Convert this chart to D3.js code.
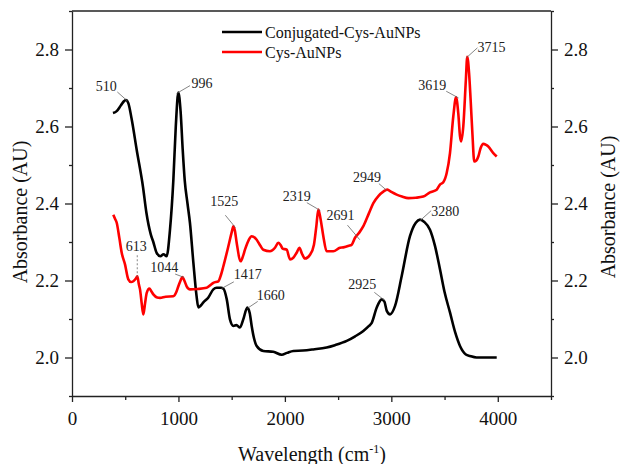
<!DOCTYPE html>
<html>
<head>
<meta charset="utf-8">
<script src="https://cdn.jsdelivr.net/npm/d3@7"></script>
<style>
  body { margin: 0; background: #fff; }
  .axis path, .axis line { stroke: #222; stroke-width: 1.3; }
  .axis text { font-size: 19px; fill: #111; }
  .ann { font-size: 14px; fill: #222; }
  .leader { stroke: #666; stroke-width: 0.8; fill: none; }
</style>
</head>
<body>
<svg id="chart" width="620" height="464" font-family="Liberation Serif"></svg>
<script>
const FONT = "Liberation Serif"

// Conjugated-Cys-AuNPs (black)
const conjX = [385,420,460,490,507,530,560,608,667,699,740,764,795,830,860,889,920,952,975,999,1020,1040,1059,1085,1108,1140,1170,1187,1210,1234,1281,1328,1359,1400,1422,1454,1484,1516,1545,1578,1609,1647,1670,1688,1710,1735,1797,1891,1970,2020,2079,2170,2267,2392,2470,2581,2660,2737,2790,2816,2863,2910,2935,2957,2988,3035,3097,3175,3230,3269,3310,3363,3410,3457,3500,3551,3600,3645,3700,3739,3800,3990]
const conjY = [2.635,2.640,2.655,2.666,2.669,2.660,2.620,2.539,2.443,2.376,2.320,2.300,2.272,2.263,2.268,2.263,2.330,2.460,2.600,2.688,2.640,2.540,2.460,2.400,2.350,2.247,2.160,2.130,2.135,2.143,2.156,2.177,2.181,2.181,2.179,2.151,2.099,2.082,2.084,2.078,2.099,2.130,2.115,2.082,2.050,2.030,2.017,2.015,2.007,2.012,2.017,2.018,2.021,2.026,2.032,2.043,2.055,2.069,2.082,2.090,2.130,2.151,2.145,2.121,2.112,2.134,2.211,2.315,2.350,2.358,2.352,2.332,2.290,2.229,2.170,2.117,2.065,2.030,2.008,2.004,2.000,2.000]

// Cys-AuNPs (red)
const cysX = [388,405,420,445,467,498,529,555,576,600,614,628,639,655,670,686,702,727,745,764,800,827,880,952,980,999,1020,1037,1055,1077,1109,1180,1265,1300,1328,1375,1400,1422,1469,1500,1516,1530,1547,1585,1605,1625,1660,1688,1735,1770,1797,1860,1907,1938,1960,1979,2017,2048,2079,2110,2136,2160,2189,2236,2273,2295,2314,2335,2361,2392,2455,2518,2549,2600,2628,2659,2700,2737,2790,2831,2880,2925,2962,3000,3050,3100,3160,3230,3300,3363,3426,3457,3488,3520,3551,3582,3608,3629,3645,3655,3676,3700,3713,3730,3745,3762,3779,3800,3817,3840,3864,3890,3911,3958,3990]
const cysY = [2.371,2.360,2.350,2.310,2.272,2.242,2.203,2.196,2.198,2.205,2.211,2.190,2.177,2.140,2.112,2.140,2.168,2.179,2.172,2.164,2.156,2.155,2.158,2.159,2.170,2.185,2.200,2.209,2.200,2.185,2.177,2.178,2.181,2.188,2.194,2.198,2.215,2.237,2.289,2.325,2.341,2.330,2.298,2.250,2.262,2.280,2.305,2.315,2.306,2.290,2.280,2.276,2.285,2.298,2.292,2.283,2.280,2.255,2.259,2.272,2.285,2.270,2.257,2.267,2.293,2.340,2.384,2.360,2.315,2.276,2.276,2.285,2.286,2.290,2.293,2.311,2.325,2.341,2.375,2.401,2.420,2.431,2.436,2.430,2.423,2.418,2.414,2.415,2.418,2.429,2.436,2.449,2.455,2.479,2.531,2.626,2.676,2.634,2.575,2.561,2.600,2.720,2.781,2.740,2.669,2.580,2.509,2.512,2.522,2.545,2.555,2.552,2.548,2.531,2.522]

const seriesNames = ["Conjugated-Cys-AuNPs", "Cys-AuNPs"]
const seriesColors = ["#000000", "#ff0000"]

const xTicks = [0,1000,2000,3000,4000]
const xMinor = [500,1500,2500,3500,4500]
const yTicks = [2.0,2.2,2.4,2.6,2.8]
const yMinor = [1.9,2.1,2.3,2.5,2.7,2.9]

// peak labels: wavenumber, absorbance on the curve
const peakLabels = ["510","996","1525","2319","2691","2949","3619","3715","613","1044","1417","1660","2925","3280"]
const peakX = [510,996,1525,2319,2691,2949,3619,3715,613,1044,1417,1660,2925,3280]
const peakY = [2.669,2.688,2.341,2.384,2.31,2.436,2.676,2.781,2.211,2.209,2.181,2.13,2.151,2.358]
// text offset (dx, dy) and leader start (lx, ly) from the peak, in px
const labelOffsets = [[-20,-9,-9,-8],[24,-5,12,-7],[-10,-20,-9,-11],[-22,-9,-12,-7],[-18,-18,-11,-13],[-19,-8,-7,-6],
                      [-25,-7,-11,-6],[24,-5,10,-9],[-1,-25,0,-21],[-19,-5,-8,-3],[25,-9,11,-6],[22,-7,9,-6],[-21,-10,-9,-7],[24,-4,10,-9]]

let svg = d3.select("#chart")
let xScale = d3.scaleLinear().domain([0,4500]).range([72,551])
let yScale = d3.scaleLinear().domain([1.9,2.9]).range([396,11])

// frame top
svg.append("line").attr("x1",72).attr("x2",551).attr("y1",11).attr("y2",11)
    .attr("stroke","#222").attr("stroke-width",1.3)

function addAxis(axis, tx, ty, minor){
    let g = svg.append("g").attr("class","axis")
        .attr("transform",`translate(${tx},${ty})`)
        .call(axis)
        .attr("font-family",FONT)
    if (minor) g.select(".domain").remove()
    return g
}

// X axis
addAxis(d3.axisBottom(xScale).tickValues(xTicks).tickFormat(d3.format("d")).tickSize(6).tickPadding(10).tickSizeOuter(0),0,396)
addAxis(d3.axisBottom(xScale).tickValues(xMinor).tickFormat("").tickSize(4).tickSizeOuter(0),0,396,true)
// Y axis left
addAxis(d3.axisLeft(yScale).tickValues(yTicks).tickFormat(d3.format(".1f")).tickSize(7).tickPadding(6).tickSizeOuter(0),72,0)
addAxis(d3.axisLeft(yScale).tickValues(yMinor).tickFormat("").tickSize(3).tickSizeOuter(0),72,0,true)
// Y axis right
addAxis(d3.axisRight(yScale).tickValues(yTicks).tickFormat(d3.format(".1f")).tickSize(7).tickPadding(6).tickSizeOuter(0),551,0)
addAxis(d3.axisRight(yScale).tickValues(yMinor).tickFormat("").tickSize(3).tickSizeOuter(0),551,0,true)

// Labels
let xl = svg.append("text").attr("x",312).attr("y",461).attr("text-anchor","middle")
    .attr("font-family",FONT).attr("font-size",20).attr("fill","#111")
xl.append("tspan").text("Wavelength (cm")
xl.append("tspan").attr("font-size",12).attr("dy",-8).text("-1")
xl.append("tspan").attr("dy",8).text(")")

svg.append("text").attr("transform",`translate(${27},${212}) rotate(270)`)
    .attr("text-anchor","middle").attr("font-family",FONT).attr("font-size",20).attr("fill","#111")
    .text("Absorbance (AU)")
svg.append("text").attr("transform",`translate(${615},${207}) rotate(270)`)
    .attr("text-anchor","middle").attr("font-family",FONT).attr("font-size",20).attr("fill","#111")
    .text("Absorbance (AU)")

// lines
let line = d3.line().x(d => xScale(d[0])).y(d => yScale(d[1])).curve(d3.curveMonotoneX)
let plot = svg.append("g")
plot.append("path").datum(conjX.map((x,i) => [x,conjY[i]]))
    .attr("d",line).attr("fill","none").attr("stroke",seriesColors[0]).attr("stroke-width",2.6)
plot.append("path").datum(cysX.map((x,i) => [x,cysY[i]]))
    .attr("d",line).attr("fill","none").attr("stroke",seriesColors[1]).attr("stroke-width",2.6)

// annotations
peakLabels.forEach(function (lab,i){
    let px = xScale(peakX[i]), py = yScale(peakY[i])
    let o = labelOffsets[i]
    let ex = px - o[2]*0.12, ey = py - o[3]*0.12
    svg.append("line").attr("class","leader")
        .attr("x1",px+o[2]).attr("y1",py+o[3]).attr("x2",ex).attr("y2",ey)
        .attr("stroke-dasharray", lab === "613" ? "2,2" : null)
    svg.append("text").attr("class","ann").attr("font-family",FONT)
        .attr("x",px+o[0]).attr("y",py+o[1]).attr("text-anchor","middle").text(lab)
})

// legend
seriesNames.forEach(function (d,i){
    let lg = svg.append("g").attr("transform",`translate(${222},${32 + i*20})`)
    lg.append("line").attr("x1",0).attr("x2",40).attr("y1",0).attr("y2",0)
        .attr("stroke",seriesColors[i]).attr("stroke-width",2.6)
    lg.append("text").attr("x",43).attr("y",6).attr("font-family",FONT)
        .attr("font-size",16).attr("fill","#111").text(d)
})
</script>
</body>
</html>
